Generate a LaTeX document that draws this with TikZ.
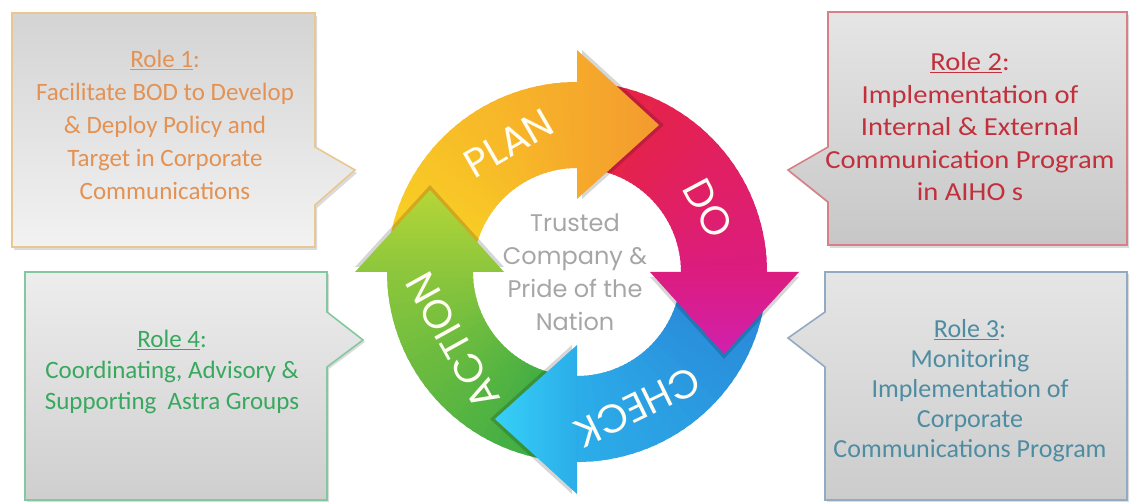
\documentclass[tikz,border=0pt]{standalone}
\usepackage{fontspec}
\setmainfont{Carlito}
\newfontfamily\rolefont{Carlito}
\newfontfamily\rolefontwide{Carlito}[FakeStretch=1.1]
\newfontfamily\ringfont{Poppins}
\usetikzlibrary{calc}

% callout colours
\definecolor{orangeline}{HTML}{E8C890}
\definecolor{orangetext}{HTML}{E39254}
\definecolor{redline}{HTML}{D88088}
\definecolor{redtext}{HTML}{C2303C}
\definecolor{blueline}{HTML}{92AAC2}
\definecolor{bluetext}{HTML}{4E8CA2}
\definecolor{greenline}{HTML}{84C8A2}
\definecolor{greentext}{HTML}{38A85E}
% cycle colours
\definecolor{planA}{HTML}{F9D523}
\definecolor{planB}{HTML}{F6AA2B}
\definecolor{planH}{HTML}{F39A2F}
\definecolor{doA}{HTML}{E8253A}
\definecolor{doB}{HTML}{DC1C7E}
\definecolor{doH}{HTML}{D120AE}
\definecolor{checkA}{HTML}{2A84D6}
\definecolor{checkB}{HTML}{2BADE9}
\definecolor{checkH}{HTML}{36D0F7}
\definecolor{actA}{HTML}{2FA845}
\definecolor{actB}{HTML}{8CC63C}
\definecolor{actH}{HTML}{B6D637}
\definecolor{labelwhite}{HTML}{FFFDF2}

% one band of the ring, shaded in small steps from #3 to #4
\newcommand\ringbody[4]{%
  \foreach \k in {0,...,35}{%
    \pgfmathsetmacro\aA{#1+(#2-#1)*\k/36}%
    \pgfmathsetmacro\aB{#1+(#2-#1)*(\k+1.4)/36}%
    \pgfmathtruncatemacro\pc{100*\k/35}%
    \fill[#4!\pc!#3] (\aA:190) arc[start angle=\aA, end angle=\aB, radius=190]
      -- (\aB:104) arc[start angle=\aB, end angle=\aA, radius=104] -- cycle;
  }%
}
% arrow head whose base lies on the radius at angle #1 (clockwise travel)
\newcommand\ringhead[3]{%
  \coordinate (hout) at (#1:222);
  \coordinate (hin) at (#1:73);
  \coordinate (htip) at ($(#1:147)+(#1-90:82)$);
  \fill[black, opacity=0.16] ($(hout)+(#1-90:5)$) -- ($(htip)+(#1-90:5)$) -- ($(hin)+(#1-90:5)$) -- cycle;
  \shade[bottom color=#2, top color=#3, shading angle=#1-180] (hout) -- (htip) -- (hin) -- cycle;
}

\begin{document}
\begin{tikzpicture}[x=1pt, y=1pt,
  rolebox/.style={line width=1.6pt, line join=miter},
  boxshadow/.style={fill=black, opacity=0.14},
  roletext/.style={align=center, inner sep=0pt},
  ringlabel/.style={text=labelwhite, font=\ringfont\fontsize{40}{40}\selectfont, inner sep=0pt},
  shapeA/.style={insert path={(12,489) -- (315,489) -- (315,355) -- (355,332) -- (315,297) -- (315,255) -- (12,255) -- cycle}},
  shapeB/.style={insert path={(828,490) -- (1127,490) -- (1127,257) -- (828,257) -- (828,300) -- (788,332) -- (828,355) -- cycle}},
  shapeC/.style={insert path={(825,230) -- (1127,230) -- (1127,2) -- (825,2) -- (825,135) -- (788,164) -- (825,190) -- cycle}},
  shapeD/.style={insert path={(25,230) -- (327,230) -- (327,190) -- (363,162) -- (327,135) -- (327,2) -- (25,2) -- cycle}}
]
\useasboundingbox (0,0) rectangle (1130,502);

% ---- callout boxes ----
\fill[shift={(2,-3)}, boxshadow, shapeA];
\shade[top color=black!17, bottom color=black!5, shapeA];
\draw[rolebox, draw=orangeline, shapeA];

\fill[shift={(2,-3)}, boxshadow, shapeB];
\shade[top color=black!10, bottom color=black!22, shapeB];
\draw[rolebox, draw=redline, shapeB];

\fill[shift={(2,-2)}, boxshadow, shapeC];
\shade[top color=black!10, bottom color=black!20, shapeC];
\draw[rolebox, draw=blueline, shapeC];

\fill[shift={(2,-2)}, boxshadow, shapeD];
\shade[top color=black!7, bottom color=black!19, shapeD];
\draw[rolebox, draw=greenline, shapeD];

\node[roletext, text=orangetext, font=\rolefont\fontsize{25}{33}\selectfont] (role1) at (165,377)
  {\underline{Role 1}:\\Facilitate BOD to Develop\\\& Deploy Policy and\\Target in Corporate\\Communications};
\node[roletext, text=redtext, font=\rolefontwide\fontsize{26}{32.5}\selectfont] (role2) at (970,375)
  {\underline{Role 2}:\\Implementation of\\Internal \& External\\Communication Program\\in AIHO s};
\node[roletext, text=bluetext, font=\rolefont\fontsize{26}{30}\selectfont] (role3) at (970,111)
  {\underline{Role 3}:\\Monitoring\\Implementation of\\Corporate\\Communications Program};
\node[roletext, text=greentext, font=\rolefont\fontsize{25}{31}\selectfont] (role4) at (172,130)
  {\underline{Role 4}:\\Coordinating, Advisory \&\\Supporting\ \ Astra Groups};

% ---- PDCA cycle ----
\begin{scope}[shift={(577,230)}]
  \ringbody{180}{90}{planA}{planB}
  \ringbody{90}{0}{doA}{doB}
  \ringbody{0}{-90}{checkA}{checkB}
  \ringbody{-90}{-180}{actA}{actB}
  \ringhead{90}{planB}{planH}
  \ringhead{0}{doB}{doH}
  \ringhead{-90}{checkB}{checkH}
  \ringhead{180}{actB}{actH}

  \node[ringlabel, rotate=30] (plan) at (118:146) {PLAN};
  \node[ringlabel, rotate=-62] (do) at (26:146) {DO};
  \node[ringlabel, rotate=206] (check) at (-66:148) {CHECK};
  \node[ringlabel, rotate=119] (action) at (-151:142) {ACTION};

  \node[align=center, inner sep=0pt, text=black!35, font=\ringfont\fontsize{24}{33}\selectfont] (motto) at (-2,0)
    {Trusted\\Company \&\\Pride of the\\Nation};
\end{scope}
\end{tikzpicture}
\end{document}
